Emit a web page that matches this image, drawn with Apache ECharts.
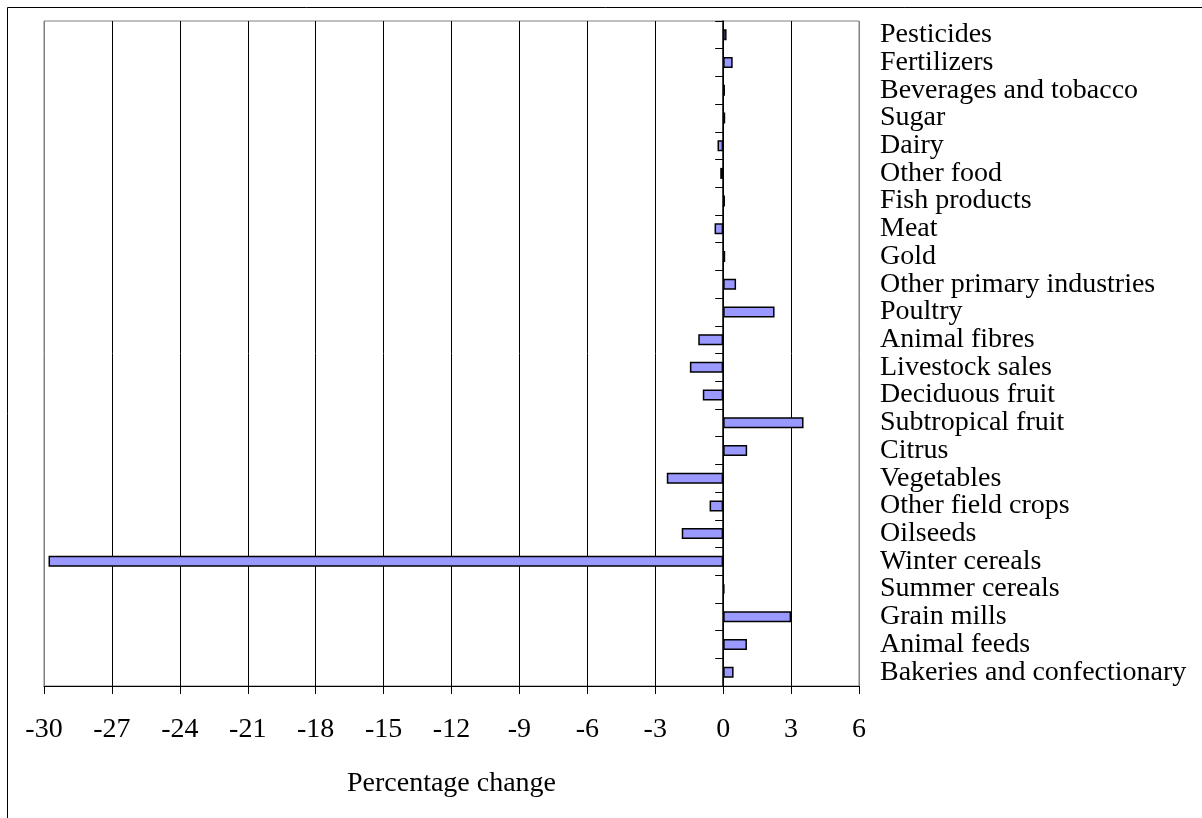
<!DOCTYPE html>
<html>
<head>
<meta charset="utf-8">
<script src="https://cdn.jsdelivr.net/npm/echarts@6/dist/echarts.min.js"></script>
<style>
html,body{margin:0;padding:0;background:#fff;}
#chart{width:1202px;height:818px;}
</style>
</head>
<body>
<div id="chart"></div>
<script>
const categories = ['Pesticides','Fertilizers','Beverages and tobacco','Sugar','Dairy','Other food','Fish products','Meat','Gold','Other primary industries','Poultry','Animal fibres','Livestock sales','Deciduous fruit','Subtropical fruit','Citrus','Vegetables','Other field crops','Oilseeds','Winter cereals','Summer cereals','Grain mills','Animal feeds','Bakeries and confectionary'];
const values = [0.15,0.42,0.08,0.09,-0.25,-0.13,0.08,-0.38,0.09,0.57,2.27,-1.1,-1.47,-0.9,3.55,1.06,-2.49,-0.6,-1.83,-29.8,0.06,3.0,1.05,0.46];
const xMin = -30, xMax = 6, xStep = 3;
const axisName = 'Percentage change';

const FONT = 'Liberation Serif';
const nTicks = (xMax - xMin) / xStep + 1;
const splitColors = [];
for (let i = 0; i < nTicks; i++) splitColors.push(i === 0 || i === nTicks - 1 ? '#808080' : '#000000');

const chart = echarts.init(document.getElementById('chart'), null, {renderer: 'canvas'});
chart.setOption({
  animation: false,
  backgroundColor: '#ffffff',
  graphic: [{
    type: 'rect',
    shape: {x: 7.5, y: 7.5, width: 1300, height: 900},
    style: {fill: 'none', stroke: '#000', lineWidth: 1},
    silent: true
  }],
  grid: {
    left: 44, top: 21, right: 343, bottom: 132,
    show: true, borderColor: '#808080', borderWidth: 1
  },
  xAxis: {
    type: 'value',
    min: xMin, max: xMax, interval: xStep,
    name: axisName,
    nameLocation: 'middle',
    nameGap: 84,
    nameTextStyle: {fontFamily: FONT, fontSize: 28, color: '#000'},
    axisLine: {show: true, onZero: false, lineStyle: {color: '#000', width: 1}},
    axisTick: {show: true, inside: false, length: 8, lineStyle: {color: '#000'}},
    axisLabel: {fontFamily: FONT, fontSize: 28, color: '#000', margin: 30},
    splitLine: {show: true, lineStyle: {color: splitColors, width: 1}}
  },
  yAxis: [{
    type: 'category',
    inverse: true,
    data: categories,
    position: 'left',
    axisLine: {show: true, onZero: true, lineStyle: {color: '#000', width: 1.5}},
    axisTick: {show: true, inside: false, length: 8, interval: 0, lineStyle: {color: '#000'}},
    axisLabel: {show: false},
    splitLine: {show: false}
  }, {
    type: 'category',
    inverse: true,
    data: categories,
    position: 'right',
    axisLine: {show: false, onZero: false},
    axisTick: {show: false},
    axisLabel: {show: true, interval: 0, fontFamily: FONT, fontSize: 28, color: '#000', margin: 21, align: 'left', padding: [3, 0, 0, 0]},
    splitLine: {show: false}
  }],
  series: [{
    type: 'bar',
    data: values,
    yAxisIndex: 0,
    barWidth: 11,
    itemStyle: {color: '#9999FF', borderColor: '#000', borderWidth: 1.5}
  }]
});
</script>
</body>
</html>
